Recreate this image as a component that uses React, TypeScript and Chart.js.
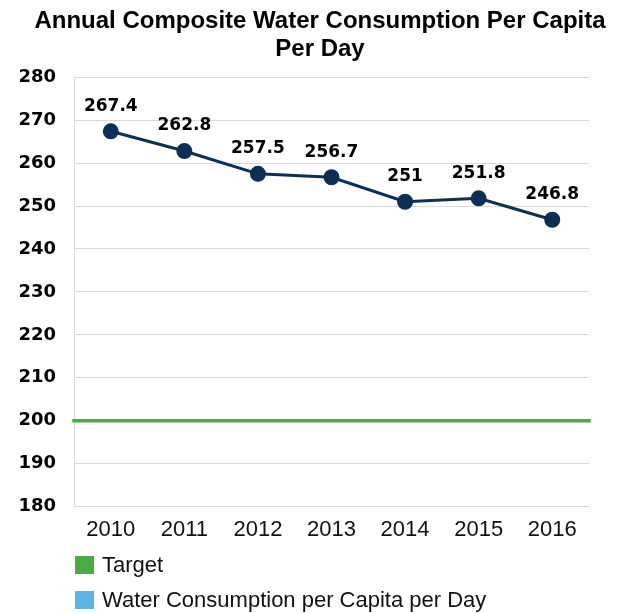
import React, { useEffect, useRef } from "react";
import { Chart, registerables } from "chart.js";

Chart.register(...registerables);

const TITLE_LINES = ["Annual Composite Water Consumption Per Capita", "Per Day"];
const YEARS = ["2010", "2011", "2012", "2013", "2014", "2015", "2016"];
const CONSUMPTION = [267.4, 262.8, 257.5, 256.7, 251, 251.8, 246.8];
const TARGET_VALUE = 200;
const Y_MIN = 180;
const Y_MAX = 280;
const Y_STEP = 10;
const LEGEND_LABELS = ["Target", "Water Consumption per Capita per Day"];
const LEGEND_COLORS = ["#4cab46", "#5db5e5"];

const NAVY = "#0c2f57";
const GREEN = "#4cab46";
const TITLE_LEFT_INSET = 22;

const titleShiftPlugin = {
  id: "titleShift",
  afterLayout(chart: any) {
    if (chart.titleBlock) chart.titleBlock.left = TITLE_LEFT_INSET;
  },
};

const dataLabelPlugin = {
  id: "dataLabels",
  afterDatasetsDraw(chart: any) {
    const ctx = chart.ctx;
    const meta = chart.getDatasetMeta(1);
    ctx.save();
    ctx.font = "bold 17px 'DejaVu Sans'";
    ctx.fillStyle = "#000";
    ctx.textAlign = "center";
    ctx.textBaseline = "middle";
    meta.data.forEach((pt: any, i: number) => {
      ctx.fillText(String(CONSUMPTION[i]), pt.x, pt.y - 25);
    });
    ctx.restore();
  },
};

const legendPlugin = {
  id: "customLegend",
  afterDraw(chart: any) {
    const ctx = chart.ctx;
    const xs = chart.scales.x;
    const left = chart.chartArea.left + 1;
    ctx.save();
    LEGEND_LABELS.forEach((label, i) => {
      const top = xs.bottom + 3 + i * 35;
      ctx.fillStyle = LEGEND_COLORS[i];
      ctx.fillRect(left, top, 19, 18);
      ctx.fillStyle = "#111";
      ctx.font = "22px 'Liberation Sans'";
      ctx.textAlign = "left";
      ctx.textBaseline = "middle";
      ctx.fillText(label, left + 27, top + 10);
    });
    ctx.restore();
  },
};

export default function App() {
  const canvasRef = useRef<HTMLCanvasElement | null>(null);

  useEffect(() => {
    if (!canvasRef.current) return;
    const chart = new Chart(canvasRef.current, {
      type: "line",
      data: {
        labels: YEARS,
        datasets: [
          {
            label: LEGEND_LABELS[0],
            data: [
              { x: 0, y: TARGET_VALUE },
              { x: 1, y: TARGET_VALUE },
            ] as any,
            xAxisID: "xT",
            borderColor: GREEN,
            backgroundColor: GREEN,
            borderWidth: 3.5,
            borderCapStyle: "square",
            pointRadius: 0,
            clip: false as any,
          },
          {
            label: LEGEND_LABELS[1],
            data: CONSUMPTION,
            xAxisID: "x",
            borderColor: NAVY,
            backgroundColor: NAVY,
            borderWidth: 3,
            pointRadius: 6.5,
            pointBackgroundColor: NAVY,
            pointBorderColor: NAVY,
            tension: 0,
          },
        ],
      },
      options: {
        animation: false,
        responsive: false,
        maintainAspectRatio: false,
        layout: { padding: { left: 0, right: 0, top: 0, bottom: 60 } },
        plugins: {
          legend: { display: false },
          tooltip: { enabled: false },
          title: {
            display: true,
            text: TITLE_LINES,
            color: "#000",
            font: { family: "'Liberation Sans'", size: 24, weight: "bold", lineHeight: 1.15 },
            padding: { top: 8, bottom: 14 },
          },
        },
        scales: {
          x: {
            type: "category",
            offset: true,
            grid: { display: false, drawTicks: false },
            border: { display: false },
            ticks: {
              color: "#111",
              font: { family: "'Liberation Sans'", size: 22, lineHeight: 1.2 },
              padding: 10,
              maxRotation: 0,
            },
          },
          xT: {
            type: "linear",
            display: false,
            min: 0,
            max: 1,
          },
          y: {
            min: Y_MIN,
            max: Y_MAX,
            grid: { color: "#d9d9d9", lineWidth: 1, drawTicks: false },
            border: { display: true, color: "#d9d9d9" },
            ticks: {
              stepSize: Y_STEP,
              color: "#000",
              font: { family: "'DejaVu Sans'", size: 18, weight: "bold" },
              padding: 18,
            },
            afterFit(scale: any) {
              scale.width = 74;
            },
          },
          yR: {
            type: "linear",
            position: "right",
            min: Y_MIN,
            max: Y_MAX,
            grid: { display: false, drawTicks: false },
            border: { display: false },
            ticks: { display: false },
            afterFit(scale: any) {
              scale.width = 29;
            },
          },
        },
      },
      plugins: [titleShiftPlugin, dataLabelPlugin, legendPlugin],
    });
    return () => chart.destroy();
  }, []);

  return (
    <div style={{ position: "absolute", left: 0, top: 0, width: 618, height: 613, background: "#fff" }}>
      <canvas ref={canvasRef} width={618} height={613} style={{ width: 618, height: 613 }} />
    </div>
  );
}
